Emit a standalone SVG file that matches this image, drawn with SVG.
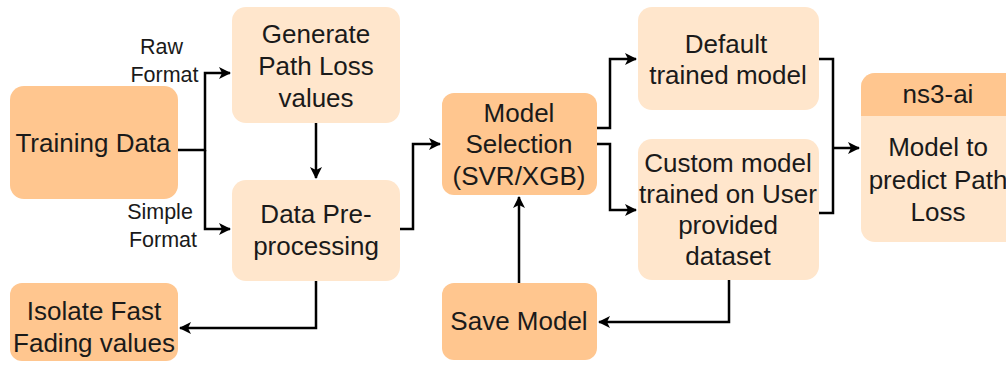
<svg xmlns="http://www.w3.org/2000/svg" width="1006" height="372" viewBox="0 0 1006 372">
<style>
.dark{fill:#FFC68F;}
.light{fill:#FFE6CC;}
.t{font-family:"Liberation Sans",Arial,sans-serif;font-size:26px;fill:#1a1a1a;text-anchor:middle;}
.s{font-family:"Liberation Sans",Arial,sans-serif;font-size:21.5px;fill:#1a1a1a;text-anchor:middle;}
.c{fill:none;stroke:#000;stroke-width:2.5;}
</style>
<defs>
<marker id="ah" viewBox="0 0 12 12" refX="11" refY="6" markerWidth="12" markerHeight="12" markerUnits="userSpaceOnUse" orient="auto">
<path d="M0,0 L12,6 L0,12 L3,6 Z" fill="#000"/>
</marker>
</defs>
<rect width="1006" height="372" fill="#fff"/>
<g id="training">
<rect class="dark" x="10" y="86" width="168" height="113" rx="14"/>
<text class="t" x="93" y="152">Training Data</text>
</g>
<g id="generate">
<rect class="light" x="232" y="7" width="168" height="116" rx="14"/>
<text class="t" x="316" y="43">Generate</text>
<text class="t" x="316" y="75">Path Loss</text>
<text class="t" x="316" y="107">values</text>
</g>
<g id="preproc">
<rect class="light" x="232" y="180" width="168" height="101" rx="14"/>
<text class="t" x="316" y="223">Data Pre-</text>
<text class="t" x="316" y="255">processing</text>
</g>
<g id="isolate">
<rect class="dark" x="10" y="283" width="168" height="78" rx="12"/>
<text class="t" x="94" y="320">Isolate Fast</text>
<text class="t" x="94" y="352">Fading values</text>
</g>
<g id="modelsel">
<rect class="dark" x="442" y="93" width="155" height="102" rx="12"/>
<text class="t" x="519" y="122">Model</text>
<text class="t" x="519" y="153">Selection</text>
<text class="t" x="519" y="185">(SVR/XGB)</text>
</g>
<g id="default">
<rect class="light" x="638" y="7" width="181" height="103" rx="14"/>
<text class="t" x="726" y="53">Default</text>
<text class="t" x="728" y="84">trained model</text>
</g>
<g id="custom">
<rect class="light" x="638" y="139" width="181" height="141" rx="14"/>
<text class="t" x="728" y="172">Custom model</text>
<text class="t" x="728" y="203">trained on User</text>
<text class="t" x="728" y="234">provided</text>
<text class="t" x="728" y="265">dataset</text>
</g>
<g id="save">
<rect class="dark" x="442" y="283" width="155" height="77" rx="12"/>
<text class="t" x="519" y="330">Save Model</text>
</g>
<g id="ns3ai">
<rect class="light" x="861" y="73" width="160" height="169" rx="14"/>
<path class="dark" d="M861,116 V87 A14,14 0 0 1 875,73 H1021 V116 Z"/>
<text class="t" x="938" y="103">ns3-ai</text>
<text class="t" x="938" y="156">Model to</text>
<text class="t" x="938" y="189">predict Path</text>
<text class="t" x="938" y="221">Loss</text>
</g>
<g id="labels">
<text class="s" x="161.5" y="54">Raw</text>
<text class="s" x="164.5" y="82">Format</text>
<text class="s" x="160" y="219">Simple</text>
<text class="s" x="163" y="247">Format</text>
</g>
<g id="connectors">
<path class="c" d="M178,150 H205 V73 H230" marker-end="url(#ah)"/>
<path class="c" d="M205,150 V229 H230" marker-end="url(#ah)"/>
<path class="c" d="M316,123 V178" marker-end="url(#ah)"/>
<path class="c" d="M400,229 H413 V144 H440" marker-end="url(#ah)"/>
<path class="c" d="M316,281 V328 H180" marker-end="url(#ah)"/>
<path class="c" d="M597,128 H610 V59 H636" marker-end="url(#ah)"/>
<path class="c" d="M597,144 H610 V210 H636" marker-end="url(#ah)"/>
<path class="c" d="M729,280 V322 H599" marker-end="url(#ah)"/>
<path class="c" d="M519,283 V197" marker-end="url(#ah)"/>
<path class="c" d="M819,59 H833 V213 H819"/>
<path class="c" d="M833,148 H859" marker-end="url(#ah)"/>
</g>
</svg>
